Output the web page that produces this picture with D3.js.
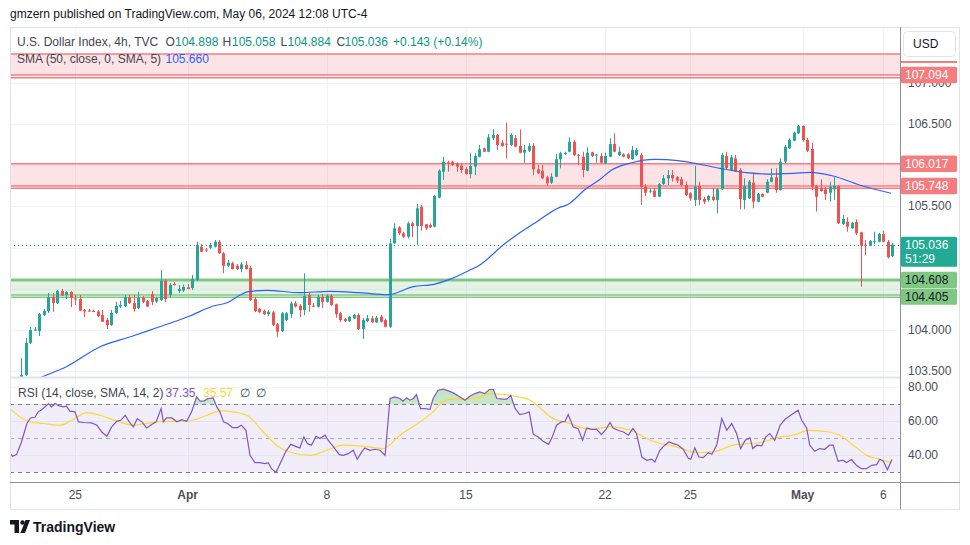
<!DOCTYPE html>
<html>
<head>
<meta charset="utf-8">
<title>U.S. Dollar Index 4h</title>
<script src="https://cdn.jsdelivr.net/npm/d3@7"></script>
<style>
  body { margin: 0; background: #fff; }
  svg { display: block; font-family: "Liberation Sans", Arial, sans-serif; }
</style>
</head>
<body>
<div id="chart"></div>
<script>

// ---- data (bar index 0 = first visible 4h bar) ----
var opens = [
  103.430,103.454,103.843,104.000,103.988,104.182,104.231,104.400,104.328,104.473,
  104.425,104.461,104.382,104.376,104.243,104.237,104.231,104.225,104.182,104.121,
  104.061,104.207,104.285,104.291,104.400,104.328,104.267,104.392,104.352,104.437,
  104.346,104.364,104.598,104.425,104.558,104.473,104.479,104.518,104.510,104.607,
  105.011,104.977,104.999,105.011,105.068,104.931,104.780,104.810,104.780,104.740,
  104.789,104.756,104.376,104.255,104.231,104.191,104.215,104.069,103.988,104.121,
  104.194,104.324,104.295,104.243,104.425,104.295,104.283,104.404,104.343,104.416,
  104.312,104.203,104.134,104.109,104.142,104.182,104.012,104.109,104.142,104.093,
  104.162,104.121,104.040,105.052,105.246,105.174,105.132,105.295,105.262,105.497,
  105.283,105.274,105.254,105.606,105.921,106.035,106.043,106.023,105.994,105.954,
  105.893,105.982,106.103,106.205,106.164,106.327,106.367,106.273,106.261,106.245,
  106.327,106.233,106.152,106.176,106.233,105.950,105.933,105.853,105.788,105.861,
  106.072,106.140,106.164,106.285,106.128,106.103,105.933,106.157,106.120,106.112,
  106.023,106.103,106.257,106.124,106.132,106.132,106.072,106.124,106.124,105.739,
  105.683,105.691,105.618,105.772,105.841,105.881,105.853,105.829,105.760,105.659,
  105.578,105.748,105.590,105.578,105.618,105.578,105.708,106.112,105.942,106.084,
  105.942,105.578,105.598,105.788,105.557,105.650,105.666,105.800,105.853,105.699,
  106.043,106.205,106.297,106.387,106.476,106.306,106.197,105.748,105.720,105.708,
  105.666,105.708,105.748,105.287,105.314,105.234,105.314,105.186,105.035,105.023,
  105.068,105.072,105.165,105.072,104.898];
var highs = [
  103.660,103.903,104.036,104.036,104.207,104.255,104.449,104.449,104.486,104.498,
  104.473,104.473,104.425,104.425,104.255,104.255,104.249,104.243,104.243,104.146,
  104.243,104.343,104.352,104.425,104.425,104.425,104.465,104.413,104.364,104.473,
  104.400,104.728,104.619,104.570,104.583,104.546,104.552,104.558,104.668,105.074,
  105.044,104.995,105.056,105.092,105.092,104.947,104.850,104.829,104.801,104.822,
  104.838,104.777,104.400,104.267,104.249,104.243,104.231,104.085,104.219,104.219,
  104.343,104.352,104.316,104.688,104.449,104.328,104.425,104.437,104.433,104.437,
  104.322,104.219,104.146,104.170,104.194,104.200,104.146,104.182,104.170,104.170,
  104.182,104.140,105.104,105.295,105.262,105.193,105.314,105.314,105.529,105.517,
  105.287,105.295,105.638,105.950,106.103,106.055,106.055,106.035,106.023,105.982,
  106.152,106.145,106.245,106.213,106.379,106.436,106.379,106.306,106.516,106.387,
  106.367,106.436,106.245,106.266,106.266,106.002,106.002,105.873,105.902,106.136,
  106.164,106.164,106.339,106.306,106.136,106.164,106.217,106.164,106.136,106.145,
  106.152,106.327,106.387,106.225,106.145,106.145,106.233,106.209,106.145,105.772,
  105.720,105.720,105.784,105.881,105.942,105.942,105.869,105.861,105.800,105.675,
  105.990,105.800,105.614,105.638,105.720,105.723,106.152,106.164,106.124,106.124,
  105.966,105.841,105.821,105.909,105.663,105.659,105.829,105.962,105.962,106.084,
  106.245,106.327,106.407,106.488,106.484,106.330,106.273,105.760,105.829,105.736,
  105.800,105.853,105.760,105.396,105.368,105.314,105.343,105.193,105.092,105.092,
  105.193,105.179,105.205,105.092,105.058];
var lows = [
  103.418,103.442,103.830,103.988,103.927,104.170,104.207,104.219,104.316,104.413,
  104.376,104.279,104.303,104.231,104.158,104.219,104.219,104.158,104.097,104.012,
  104.049,104.194,104.267,104.279,104.316,104.222,104.255,104.328,104.279,104.303,
  104.328,104.352,104.340,104.395,104.540,104.449,104.461,104.492,104.486,104.595,
  104.947,104.947,104.983,105.001,104.922,104.688,104.765,104.734,104.728,104.700,
  104.734,104.352,104.219,104.207,104.182,104.170,104.049,103.919,103.976,104.109,
  104.146,104.273,104.158,104.182,104.222,104.279,104.273,104.267,104.334,104.291,
  104.149,104.097,104.097,104.097,104.134,104.000,103.891,104.097,104.085,104.085,
  104.091,104.030,104.024,105.044,105.153,105.113,105.113,105.125,105.032,105.205,
  105.214,105.238,105.246,105.598,105.821,105.921,105.990,105.921,105.902,105.887,
  105.841,105.881,106.096,106.160,106.157,106.306,106.185,106.225,106.084,106.233,
  106.217,106.145,106.030,106.160,105.881,105.893,105.833,105.748,105.772,105.853,
  105.962,106.124,106.157,106.112,106.002,105.853,105.926,106.100,106.030,106.023,
  106.015,106.096,106.157,106.112,106.096,106.075,106.063,106.112,105.517,105.626,
  105.659,105.611,105.611,105.760,105.760,105.800,105.784,105.739,105.626,105.569,
  105.505,105.517,105.529,105.557,105.566,105.416,105.699,105.954,105.930,105.918,
  105.465,105.465,105.590,105.477,105.550,105.611,105.659,105.793,105.666,105.691,
  106.023,106.197,106.290,106.379,106.285,106.160,105.699,105.436,105.679,105.578,
  105.557,105.578,105.287,105.274,105.193,105.226,105.153,104.526,104.910,105.016,
  105.044,105.064,105.064,104.870,104.884];
var closes = [
  103.454,103.843,104.000,104.006,104.194,104.231,104.400,104.328,104.473,104.419,
  104.461,104.388,104.376,104.235,104.225,104.231,104.227,104.170,104.101,104.061,
  104.207,104.291,104.303,104.400,104.328,104.255,104.392,104.343,104.285,104.343,
  104.388,104.598,104.376,104.546,104.546,104.498,104.522,104.498,104.619,105.032,
  104.950,104.967,105.032,105.072,104.931,104.780,104.817,104.740,104.740,104.797,
  104.740,104.364,104.231,104.215,104.191,104.222,104.061,103.979,104.203,104.203,
  104.324,104.283,104.243,104.413,104.303,104.287,104.404,104.343,104.416,104.303,
  104.194,104.121,104.109,104.162,104.182,104.012,104.121,104.142,104.093,104.149,
  104.101,104.040,105.050,105.234,105.174,105.132,105.295,105.262,105.477,105.262,
  105.234,105.246,105.626,105.933,106.043,106.027,106.002,105.982,105.942,105.893,
  105.990,106.112,106.193,106.164,106.339,106.367,106.245,106.233,106.254,106.367,
  106.225,106.152,106.185,106.233,105.950,105.902,105.841,105.781,105.861,106.072,
  106.145,106.148,106.285,106.124,106.120,105.942,106.152,106.112,106.128,106.030,
  106.112,106.257,106.164,106.164,106.103,106.084,106.185,106.185,105.739,105.666,
  105.691,105.618,105.772,105.841,105.881,105.841,105.812,105.760,105.638,105.598,
  105.739,105.578,105.557,105.626,105.578,105.708,106.124,105.966,106.096,105.921,
  105.590,105.748,105.800,105.557,105.650,105.618,105.800,105.853,105.699,106.043,
  106.225,106.306,106.395,106.476,106.306,106.176,105.739,105.618,105.687,105.650,
  105.739,105.748,105.295,105.347,105.254,105.302,105.174,105.023,105.028,105.080,
  105.077,105.165,105.072,104.882,105.036];

// SMA 50: [bar, value]
var smaPts = [[2,103.369],[5.2,103.445],[10,103.555],[17.5,103.797],[24.8,103.927],[29.3,104.012],
  [37.5,104.170],[42.7,104.291],[45.8,104.331],[48.7,104.425],[50.5,104.465],[54.7,104.482],
  [62,104.453],[68.7,104.470],[75.4,104.453],[81.6,104.429],[87.3,104.526],[92.1,104.558],
  [95.4,104.615],[99.9,104.728],[102.1,104.789],[107.3,105.032],[110.3,105.153],[114.8,105.314],
  [119.9,105.489],[121.5,105.517],[125.9,105.720],[128.9,105.829],[131.3,105.937],[135.9,106.030],
  [141.1,106.072],[146.3,106.055],[150.8,106.015],[155.6,105.962],[161.5,105.909],[166,105.893],
  [171.9,105.902],[175.7,105.914],[180.8,105.869],[186.7,105.760],[193.7,105.660]];

// RSI 14 and its SMA 14: [bar, value]
var rsiPts = [[-2.6,41.4],[-2,39.2],[-1.1,40.2],[0,47.7],[1.2,58.6],[2,61.9],[3,62.3],[3.7,65.5],
  [4.5,66.8],[5.2,68.4],[6,70.4],[6.7,68.4],[7.5,70.4],[8.4,69.0],[9.3,68.4],[10,68.8],[10.8,65.9],
  [11.9,65.5],[12.7,59.6],[13.8,59.2],[15.6,59.0],[16.8,57.6],[17.9,53.6],[19,51.1],[20.1,56.6],
  [21.2,59.9],[22.1,60.5],[23.1,63.5],[24,59.6],[24.9,56.6],[25.8,61.5],[26.8,59.6],[27.9,56.0],
  [29,58.0],[30,59.6],[31.1,67.4],[31.6,59.6],[32.3,61.9],[33.5,61.9],[34.6,59.6],[35.7,60.9],
  [36.8,59.9],[37.9,65.5],[39,74.3],[39.8,71.8],[40.7,72.0],[41.6,73.4],[42.7,73.8],[43.5,68.4],
  [44.2,65.5],[45,59.6],[45.9,58.6],[47,56.2],[48.1,56.2],[49,57.6],[50,54.6],[50.9,39.8],[52,35.5],
  [53.1,35.5],[54.2,34.9],[55,35.3],[55.7,31.9],[56.7,29.6],[57.6,34.9],[58.9,42.2],[60,46.3],
  [61.3,44.8],[62,44.2],[62.9,50.7],[63.7,46.7],[64.6,45.8],[65.6,51.1],[66.5,49.7],[67.6,51.7],
  [68.6,47.7],[69.5,44.8],[70.8,40.2],[71.7,39.8],[72.8,40.8],[73.9,42.8],[74.8,37.5],[75.8,41.8],
  [76.5,44.2],[77.6,42.8],[78.7,43.4],[79.9,42.8],[81,39.8],[82.1,73.4],[83.2,74.3],[84.3,73.4],
  [85,71.8],[85.8,73.8],[86.5,72.4],[87.3,73.4],[88,75.7],[88.9,67.4],[89.9,67.4],[91,67.0],
  [91.7,73.4],[92.8,78.3],[94,78.9],[95.1,77.9],[96.2,76.7],[97.7,74.3],[98.8,72.4],[99.9,74.7],
  [101,76.3],[102.1,77.3],[103.2,76.3],[104.2,78.7],[105.1,78.7],[105.9,73.4],[107.3,73.0],
  [108.1,73.0],[109,75.3],[109.9,67.8],[111,63.9],[112.2,64.5],[113.1,65.5],[114,52.3],[115.1,50.7],
  [116.2,48.1],[117.4,46.3],[118.1,49.7],[119.2,57.6],[120.3,59.6],[121.1,59.9],[121.8,63.9],
  [122.9,56.6],[124,55.6],[125,48.7],[125.9,56.0],[127,55.2],[128.1,55.2],[129.2,52.1],[130.2,55.2],
  [131.1,59.2],[131.8,56.0],[132.9,54.6],[134.1,53.6],[135.2,51.7],[136.2,55.6],[137,52.7],
  [138.2,38.8],[139.3,36.9],[140.4,37.5],[141.1,35.9],[142.2,42.8],[143.3,45.8],[144.2,47.7],
  [145.2,46.7],[146.3,45.8],[147.4,43.4],[148.5,38.2],[149.1,37.5],[150,44.2],[150.9,38.8],
  [151.9,38.4],[153,41.4],[153.8,40.4],[154.9,46.1],[156,61.5],[157.1,54.6],[158.2,58.6],
  [159.3,52.7],[160.2,43.8],[161.2,48.7],[162.3,50.1],[162.9,43.8],[163.8,45.8],[164.9,45.4],
  [165.8,50.7],[166.7,52.7],[167.8,48.7],[169,57.6],[170.1,61.1],[171.6,63.9],[173,66.5],
  [173.8,60.5],[174.9,56.0],[175.6,45.8],[176.7,42.2],[177.8,43.8],[178.9,43.4],[180,45.8],
  [180.8,45.8],[181.9,36.3],[183,36.9],[183.8,35.5],[184.9,37.3],[186,33.9],[187.1,31.9],
  [188.2,31.9],[189.4,33.9],[190.5,34.3],[191.2,37.5],[192,36.3],[192.9,31.3],[193.9,37.35]];
var rsiMaPts = [[-2.6,67.4],[-0.3,62.5],[1.9,59.6],[4.9,58.6],[8.6,57.6],[11.2,60.5],[14.5,65.1],
  [17.5,63.5],[21.2,60.1],[24.9,57.6],[28.6,59.0],[32.3,59.9],[36.8,59.9],[41.3,63.5],[44.2,66.1],
  [47.2,65.5],[50.2,63.5],[53.9,53.6],[56.8,45.8],[60.5,41.2],[64.3,39.8],[68,42.8],[71.7,45.8],
  [75.4,45.4],[80.6,43.8],[84.3,51.7],[88.8,59.6],[91.7,65.5],[94,71.8],[96.2,73.0],[99.2,73.0],
  [102.1,74.3],[104.4,76.3],[108.8,75.3],[113.3,72.4],[118.5,61.5],[122.2,58.6],[126.6,55.2],
  [131.1,56.6],[135.6,54.6],[140.7,48.1],[145.9,44.8],[150.4,41.4],[154.1,41.8],[158.5,45.8],
  [165.2,47.7],[169,50.7],[172,51.7],[175.3,54.6],[180,53.6],[182.3,51.7],[185.3,45.8],
  [188.3,39.8],[191.2,37.5],[193.9,35.57]];

// time axis
var tickIdx = [12, 37, 68, 99, 130, 149, 174, 192];
var tickLabels = ["25", "Apr", "8", "15", "22", "25", "May", "6"];
var monthTicks = ["Apr", "May"];
var priceTicks = [103.5, 104.0, 104.5, 105.0, 105.5, 106.0, 106.5, 107.0];
var rsiTicks = [40, 60, 80];
var rsiLevels = [70, 50, 30];

// drawn zones (top, bottom, second bottom line)
var zoneTop = [107.35, 106.017, 104.608];
var zoneBottom = [107.094, 105.748, 104.425];
var zoneExtra = [107.06, 105.72, 104.398];
var zoneKind = ["res", "res", "sup"];
var tagVals = [107.094, 106.017, 105.748, 104.608, 104.405];
var tagKind = ["res", "res", "res", "sup", "sup"];
var lastPrice = 105.036, countdown = "51:29";
var legendVals = {O: "104.898", H: "105.058", L: "104.884", C: "105.036", chg: "+0.143 (+0.14%)",
  sma: "105.660", rsi: "37.35", rsiMa: "35.57"};

// ---- layout ----
var W = 970, H = 545;
var left = 10, right = 900, frameRight = 960;
var pTop = 27, pBot = 377, rTop = 378, rBot = 482, frameBot = 509;

var up = "#26a69a", down = "#ef5350";
var resColor = "#f77c80", supColor = "#81c784";

var svg = d3.select("#chart").append("svg").attr("width", W).attr("height", H);
var defs = svg.append("defs");
defs.append("clipPath").attr("id", "clipP").append("rect")
  .attr("x", left).attr("y", pTop).attr("width", right - left).attr("height", pBot - pTop);
defs.append("clipPath").attr("id", "clipR").append("rect")
  .attr("x", left).attr("y", rTop).attr("width", right - left).attr("height", rBot - rTop);

var x = d3.scaleLinear().domain([-2.56, 195.48]).range([left, right - 1]);
var y = d3.scaleLinear().domain([103.430, 107.665]).range([pBot, pTop + 1]);
var yr = d3.scaleLinear().domain([24.05, 85.5]).range([rBot, rTop]);

svg.append("rect").attr("width", W).attr("height", H).attr("fill", "#fff");

// grid
var grid = svg.append("g").attr("stroke", "#f0f3fa").attr("stroke-width", 1);
grid.selectAll(".vg").data(tickIdx).enter().append("line")
  .attr("x1", function(d) { return Math.round(x(d)) + 0.5; })
  .attr("x2", function(d) { return Math.round(x(d)) + 0.5; })
  .attr("y1", pTop).attr("y2", rBot);
grid.selectAll(".hg").data(priceTicks).enter().append("line")
  .attr("x1", left).attr("x2", right)
  .attr("y1", function(d) { return Math.round(y(d)) + 0.5; })
  .attr("y2", function(d) { return Math.round(y(d)) + 0.5; });
grid.selectAll(".rg").data(rsiTicks).enter().append("line")
  .attr("x1", left).attr("x2", right)
  .attr("y1", function(d) { return Math.round(yr(d)) + 0.5; })
  .attr("y2", function(d) { return Math.round(yr(d)) + 0.5; });

// ---- price pane ----
var pane = svg.append("g").attr("clip-path", "url(#clipP)");

zoneTop.forEach(function(t, i) {
  var c = zoneKind[i] == "res" ? resColor : supColor;
  var fill = zoneKind[i] == "res" ? "rgba(242,54,69,0.14)" : "rgba(76,175,80,0.15)";
  pane.append("rect").attr("x", left).attr("width", right - left)
    .attr("y", y(t)).attr("height", y(zoneBottom[i]) - y(t)).attr("fill", fill);
  pane.append("line").attr("x1", left).attr("x2", right).attr("y1", y(t)).attr("y2", y(t))
    .attr("stroke", c).attr("stroke-width", zoneKind[i] == "sup" ? 3 : 1.5);
  [zoneBottom[i], zoneExtra[i]].forEach(function(v) {
    pane.append("line").attr("x1", left).attr("x2", right).attr("y1", y(v)).attr("y2", y(v))
      .attr("stroke", c).attr("stroke-width", 1.5);
  });
});

// last price dotted line
pane.append("line").attr("x1", left).attr("x2", right)
  .attr("y1", Math.round(y(lastPrice)) + 0.5).attr("y2", Math.round(y(lastPrice)) + 0.5)
  .attr("stroke", up).attr("stroke-dasharray", "1,3");

// candles
var bars = d3.range(opens.length);
var cg = pane.append("g");
cg.selectAll(".wick").data(bars).enter().append("line")
  .attr("x1", function(i) { return Math.round(x(i)) + 0.5; })
  .attr("x2", function(i) { return Math.round(x(i)) + 0.5; })
  .attr("y1", function(i) { return y(highs[i]); })
  .attr("y2", function(i) { return y(lows[i]); })
  .attr("stroke", function(i) { return closes[i] >= opens[i] ? up : down; });
cg.selectAll(".body").data(bars).enter().append("rect")
  .attr("x", function(i) { return Math.round(x(i)) - 1; })
  .attr("width", 3)
  .attr("y", function(i) { return y(Math.max(opens[i], closes[i])); })
  .attr("height", function(i) { return Math.max(1, Math.abs(y(opens[i]) - y(closes[i]))); })
  .attr("fill", function(i) { return closes[i] >= opens[i] ? up : down; });

// SMA 50
pane.append("path").datum(smaPts)
  .attr("d", d3.line().curve(d3.curveMonotoneX)
    .x(function(d) { return x(d[0]); }).y(function(d) { return y(d[1]); }))
  .attr("fill", "none").attr("stroke", "#2962ff").attr("stroke-width", 1.2);

// ---- RSI pane ----
var rp = svg.append("g").attr("clip-path", "url(#clipR)");
rp.append("rect").attr("x", left).attr("width", right - left)
  .attr("y", yr(70)).attr("height", yr(30) - yr(70)).attr("fill", "rgba(126,87,194,0.1)");
rp.selectAll(".lvl").data(rsiLevels).enter().append("line")
  .attr("x1", left).attr("x2", right)
  .attr("y1", function(d) { return Math.round(yr(d)) + 0.5; })
  .attr("y2", function(d) { return Math.round(yr(d)) + 0.5; })
  .attr("stroke", function(d) { return d == 50 ? "#a3a6af" : "#787b86"; })
  .attr("stroke-dasharray", "4,4");

// overbought fill
var grad = defs.append("linearGradient").attr("id", "obFill")
  .attr("x1", 0).attr("x2", 0).attr("y1", 0).attr("y2", 1);
grad.append("stop").attr("offset", "0%").attr("stop-color", "rgba(76,175,80,0.35)");
grad.append("stop").attr("offset", "100%").attr("stop-color", "rgba(76,175,80,0.05)");
defs.append("clipPath").attr("id", "clipOB").append("rect")
  .attr("x", left).attr("y", rTop).attr("width", right - left).attr("height", yr(70) - rTop);
rp.append("g").attr("clip-path", "url(#clipOB)").append("path").datum(rsiPts)
  .attr("d", d3.area().x(function(d) { return x(d[0]); })
    .y0(yr(70)).y1(function(d) { return yr(d[1]); }))
  .attr("fill", "url(#obFill)");

rp.append("path").datum(rsiMaPts)
  .attr("d", d3.line().curve(d3.curveMonotoneX)
    .x(function(d) { return x(d[0]); }).y(function(d) { return yr(d[1]); }))
  .attr("fill", "none").attr("stroke", "#fdd835").attr("stroke-width", 1.2);
rp.append("path").datum(rsiPts)
  .attr("d", d3.line().x(function(d) { return x(d[0]); }).y(function(d) { return yr(d[1]); }))
  .attr("fill", "none").attr("stroke", "#7e57c2").attr("stroke-width", 1.2);

// ---- frame and axes ----
svg.append("rect").attr("x", left + 0.5).attr("y", pTop + 0.5)
  .attr("width", frameRight - left - 1).attr("height", frameBot - pTop)
  .attr("fill", "none").attr("stroke", "#e0e3eb");
svg.append("line").attr("x1", left).attr("x2", right).attr("y1", pBot + 0.5).attr("y2", pBot + 0.5)
  .attr("stroke", "#e0e3eb").attr("stroke-width", 2);
svg.append("line").attr("x1", left).attr("x2", frameRight).attr("y1", rBot + 0.5).attr("y2", rBot + 0.5)
  .attr("stroke", "#8f929b");
svg.append("line").attr("x1", right + 0.5).attr("x2", right + 0.5).attr("y1", pTop).attr("y2", frameBot)
  .attr("stroke", "#8f929b");

// date labels
svg.append("g").selectAll("text").data(tickIdx).enter().append("text")
  .attr("x", function(d) { return x(d); })
  .attr("y", 499)
  .attr("text-anchor", "middle")
  .attr("font-size", 12)
  .attr("font-weight", function(d, i) { return monthTicks.indexOf(tickLabels[i]) >= 0 ? "bold" : "normal"; })
  .attr("fill", "#4a4e59")
  .text(function(d, i) { return tickLabels[i]; });

// price axis labels, leaving out the ones the tags cover completely
var tagYs = tagVals.concat([lastPrice]).map(function(v) { return y(v); });
var shownTicks = priceTicks.filter(function(p) {
  return !tagYs.some(function(t) { return Math.abs(y(p) - t) < 9 && Math.abs(y(p) - t) > 0 && p != 107.0; });
});
svg.append("g").selectAll("text").data(shownTicks).enter().append("text")
  .attr("x", 908).attr("y", function(d) { return y(d) + 4; })
  .attr("font-size", 12).attr("fill", "#4a4e59")
  .text(function(d) { return d.toFixed(3); });
svg.append("g").selectAll("text").data(rsiTicks).enter().append("text")
  .attr("x", 908).attr("y", function(d) { return yr(d) + 4; })
  .attr("font-size", 12).attr("fill", "#4a4e59")
  .text(function(d) { return d.toFixed(2); });

// USD box
svg.append("rect").attr("x", 903.5).attr("y", 31.5).attr("width", 52).attr("height", 25).attr("rx", 4)
  .attr("fill", "#fff").attr("stroke", "#e0e3eb");
svg.append("text").attr("x", 913).attr("y", 48).attr("font-size", 12).attr("fill", "#131722").text("USD");
svg.append("line").attr("x1", right + 1).attr("x2", 957).attr("y1", 62).attr("y2", 62)
  .attr("stroke", resColor).attr("stroke-width", 2);

// price tags
var tags = svg.append("g");
tagVals.forEach(function(v, i) {
  var res = tagKind[i] == "res";
  tags.append("rect").attr("x", right + 1).attr("y", y(v) - 8.2).attr("width", 56).attr("height", 16.4)
    .attr("rx", 1.5).attr("fill", res ? resColor : supColor);
  tags.append("text").attr("x", 905).attr("y", y(v) + 4.3).attr("font-size", 12)
    .attr("fill", res ? "#fff" : "#131722").text(v.toFixed(3));
});
tags.append("rect").attr("x", right + 1).attr("y", y(lastPrice) - 8).attr("width", 56).attr("height", 30)
  .attr("rx", 1.5).attr("fill", "#22ab94");
tags.append("text").attr("x", 905).attr("y", y(lastPrice) + 4.3).attr("font-size", 12)
  .attr("fill", "#fff").text(lastPrice.toFixed(3));
tags.append("text").attr("x", 905).attr("y", y(lastPrice) + 18).attr("font-size", 12)
  .attr("fill", "#fff").text(countdown);

// ---- legends ----
svg.append("text").attr("x", 10).attr("y", 18).attr("font-size", 12).attr("fill", "#131722")
  .text("gmzern published on TradingView.com, May 06, 2024 12:08 UTC-4");

var gray = "#434651", green = "#089981";
var l1 = svg.append("text").attr("y", 46).attr("font-size", 12);
l1.append("tspan").attr("x", 17).attr("fill", gray).text("U.S. Dollar Index, 4h, TVC");
[["O", 165.5, 175], ["H", 222.5, 232], ["L", 280.5, 287.5], ["C", 336.5, 344.5]].forEach(function(k) {
  l1.append("tspan").attr("x", k[1]).attr("fill", gray).text(k[0]);
  l1.append("tspan").attr("x", k[2]).attr("fill", green).text(legendVals[k[0]]);
});
l1.append("tspan").attr("x", 393).attr("fill", green).text(legendVals.chg);

var l2 = svg.append("text").attr("y", 63).attr("font-size", 12);
l2.append("tspan").attr("x", 17).attr("fill", gray).text("SMA (50, close, 0, SMA, 5)");
l2.append("tspan").attr("x", 165.5).attr("fill", "#2962ff").text(legendVals.sma);

var l3 = svg.append("text").attr("y", 397).attr("font-size", 12);
l3.append("tspan").attr("x", 18).attr("fill", gray).text("RSI (14, close, SMA, 14, 2)");
l3.append("tspan").attr("x", 165.5).attr("fill", "#7e57c2").text(legendVals.rsi);
l3.append("tspan").attr("x", 203).attr("fill", "#fdd835").text(legendVals.rsiMa);
l3.append("tspan").attr("x", 240).attr("fill", gray).text("∅");
l3.append("tspan").attr("x", 256).attr("fill", gray).text("∅");

// TradingView logo
var logo = svg.append("g").attr("fill", "#131722");
logo.append("path").attr("d", "M10,520 h9 v13 h-4.5 v-8.5 h-4.5 z");
logo.append("circle").attr("cx", 22.5).attr("cy", 522.5).attr("r", 2.2);
logo.append("path").attr("d", "M25.5,520 h4.5 l-5,13 h-4.5 z");
svg.append("text").attr("x", 33).attr("y", 532).attr("font-size", 14).attr("font-weight", "bold")
  .attr("fill", "#131722").text("TradingView");

</script>
</body>
</html>
